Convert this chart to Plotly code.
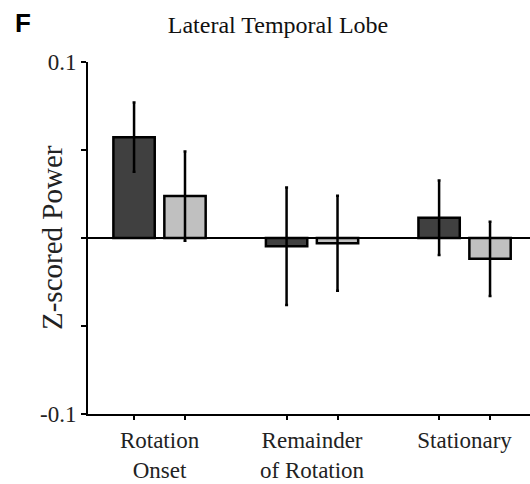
import plotly.graph_objects as go

categories = ["Rotation<br>Onset", "Remainder<br>of Rotation", "Stationary"]
dark_vals = [0.0573, -0.0047, 0.0115]
dark_err = [0.0197, 0.0334, 0.0211]
light_vals = [0.0238, -0.0030, -0.0118]
light_err = [0.0254, 0.0270, 0.0211]
ytick_vals = [-0.1, -0.05, 0, 0.05, 0.1]
ytick_text = ["-0.1", "", "", "", "0.1"]

offset = 0.167
bar_w = 0.271
groups = list(range(len(categories)))
x_dark = [g - offset for g in groups]
x_light = [g + offset for g in groups]

serif = "Liberation Serif"

fig = go.Figure()
fig.add_trace(go.Bar(
    x=x_dark, y=dark_vals, width=bar_w,
    marker=dict(color="#404040", line=dict(color="black", width=2.5)),
    error_y=dict(type="data", array=dark_err, color="black", thickness=2.5, width=1.5),
    showlegend=False,
))
fig.add_trace(go.Bar(
    x=x_light, y=light_vals, width=bar_w,
    marker=dict(color="#c0c0c0", line=dict(color="black", width=2.5)),
    error_y=dict(type="data", array=light_err, color="black", thickness=2.5, width=1.5),
    showlegend=False,
))

fig.update_layout(
    width=530, height=484,
    margin=dict(l=88, r=0, t=62, b=70),
    paper_bgcolor="white", plot_bgcolor="white",
    barmode="overlay",
    font=dict(family=serif, color="black", size=23),
    title=dict(text="Lateral Temporal Lobe", x=278/530, xanchor="center",
               y=1 - 25/484, yanchor="middle",
               font=dict(family=serif, size=24, color="#111")),
    annotations=[
        dict(text="<b>F</b>", xref="paper", yref="paper",
             x=-88/442 + 13/442, y=1 + (62 - 23) / 352,
             xanchor="left", yanchor="middle", showarrow=False,
             font=dict(family="Liberation Sans", size=26, color="black")),
        dict(text="Z-scored Power", xref="paper", yref="paper",
             x=(52 - 88) / 442, y=0.5, xanchor="center", yanchor="middle",
             textangle=-90, showarrow=False,
             font=dict(family=serif, size=29, color="#222")),
    ],
)
fig.update_xaxes(
    range=[-0.469, 2.429],
    tickvals=groups, ticktext=categories, ticks="",
    ticklabelstandoff=4,
    showline=True, linecolor="black", linewidth=2,
    showgrid=False, zeroline=False,
    tickfont=dict(family=serif, size=23, color="#222"),
    minor=dict(tickvals=x_dark + x_light, ticks="outside", ticklen=4,
               tickwidth=2, tickcolor="black", showgrid=False),
)
fig.update_yaxes(
    range=[-0.1, 0.1],
    tickvals=ytick_vals, ticktext=ytick_text,
    ticks="outside", ticklen=5, tickwidth=2, tickcolor="black",
    showline=True, linecolor="black", linewidth=2,
    showgrid=False, zeroline=True, zerolinecolor="black", zerolinewidth=2,
    tickfont=dict(family=serif, size=23, color="#222"),
)

fig.write_html("out.html")
